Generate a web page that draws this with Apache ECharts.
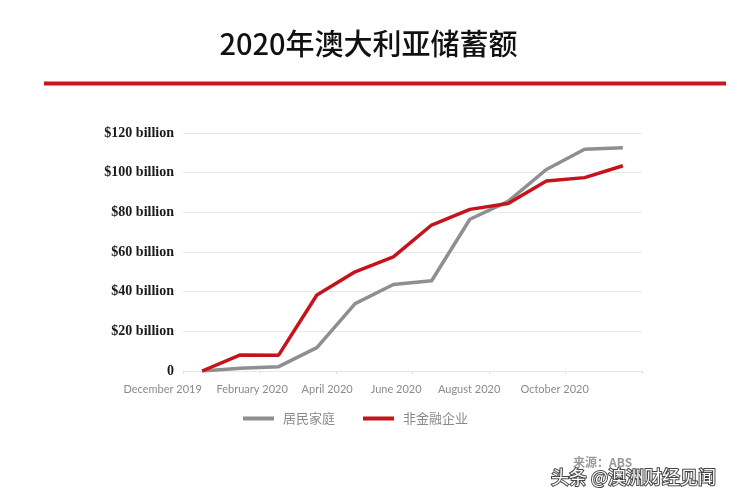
<!DOCTYPE html>
<html>
<head>
<meta charset="utf-8">
<script src="https://cdn.jsdelivr.net/npm/echarts@6/dist/echarts.min.js"></script>
<style>
html,body{margin:0;padding:0;background:#fff;}
#chart{width:737px;height:502px;}
</style>
</head>
<body>
<div id="chart"></div>
<script>
const titleText = '2020年澳大利亚储蓄额';
const months = ['December 2019','January 2020','February 2020','March 2020','April 2020','May 2020','June 2020','July 2020','August 2020','September 2020','October 2020','November 2020'];
const household = [0, 1.4, 2.2, 11.8, 34, 43.6, 45.5, 76.5, 85.5, 101.6, 111.8, 112.6];
const business = [0, 8.1, 8, 38.3, 50, 57.5, 73.6, 81.5, 84.5, 95.8, 97.5, 103.5];
const yTicks = [0, 20, 40, 60, 80, 100, 120];
const seriesNames = ['居民家庭', '非金融企业'];
const sourceText = '来源：ABS';
const watermarkText = '头条 @澳洲财经见闻';

// label styling: each shown month label sits left of its point, as in the source graphic
const labelShift = [79, 0, 53, 0, 56, 0, 71, 0, 78, 0, 60, 0];
const rich = {};
labelShift.forEach((p, i) => {
  rich['m' + i] = {fontFamily: 'Lato', fontSize: 11, color: '#8a8a8a', padding: [0, p, 0, 0]};
});

const chart = echarts.init(document.getElementById('chart'), null, {renderer: 'canvas'});
chart.setOption({
  backgroundColor: '#ffffff',
  animation: false,
  title: {
    text: titleText,
    left: 'center',
    top: 24,
    textStyle: {fontFamily: 'Noto Sans CJK SC', fontSize: 29, fontWeight: 500, color: '#111'}
  },
  graphic: [
    {type: 'rect', shape: {x: 44, y: 81.5, width: 682, height: 4}, style: {fill: '#c8161d'}},
    {type: 'text', left: 573, top: 456, style: {text: sourceText, fill: '#9a9a9a', font: 'bold 12px "Noto Sans CJK SC"'}},
    {type: 'text', left: 550, top: 467, style: {text: watermarkText, fill: '#ffffff', stroke: '#444', lineWidth: 2, font: '18px "Noto Sans CJK SC"'}}
  ],
  grid: {left: 183, right: 95, top: 133, bottom: 131, containLabel: false},
  legend: {
    left: 238, top: 407,
    icon: 'rect', itemWidth: 31, itemHeight: 4, itemGap: 28,
    data: seriesNames,
    textStyle: {fontFamily: 'Noto Sans CJK SC', fontSize: 13, color: '#8a8a8a', padding: [0, 0, 0, 4]}
  },
  xAxis: {
    type: 'category',
    data: months,
    boundaryGap: true,
    axisLine: {show: true, lineStyle: {color: '#e6e6e6', width: 1}},
    axisTick: {show: true, interval: 1, length: 3, lineStyle: {color: '#e0e0e0'}},
    axisLabel: {
      interval: 1,
      showMinLabel: true,
      hideOverlap: false,
      margin: 13,
      fontFamily: 'Lato', fontSize: 11, color: '#8a8a8a',
      formatter: (value, index) => '{m' + index + '|' + value + '}',
      rich: rich
    },
    splitLine: {show: false}
  },
  yAxis: {
    type: 'value',
    min: 0, max: 120, interval: 20,
    axisLine: {show: false},
    axisTick: {show: false},
    axisLabel: {
      margin: 9,
      fontFamily: 'Liberation Serif', fontWeight: 'bold', fontSize: 14, color: '#1a1a1a',
      formatter: v => yTicks.indexOf(v) === 0 ? '0' : '$' + v + ' billion'
    },
    splitLine: {show: true, lineStyle: {color: '#e8e8e8', width: 1}}
  },
  series: [
    {name: seriesNames[0], type: 'line', data: household, symbol: 'none',
     lineStyle: {color: '#8f8f8f', width: 3.5}, itemStyle: {color: '#8f8f8f'}},
    {name: seriesNames[1], type: 'line', data: business, symbol: 'none',
     lineStyle: {color: '#c5121b', width: 3.5}, itemStyle: {color: '#c5121b'}}
  ]
});
</script>
</body>
</html>
